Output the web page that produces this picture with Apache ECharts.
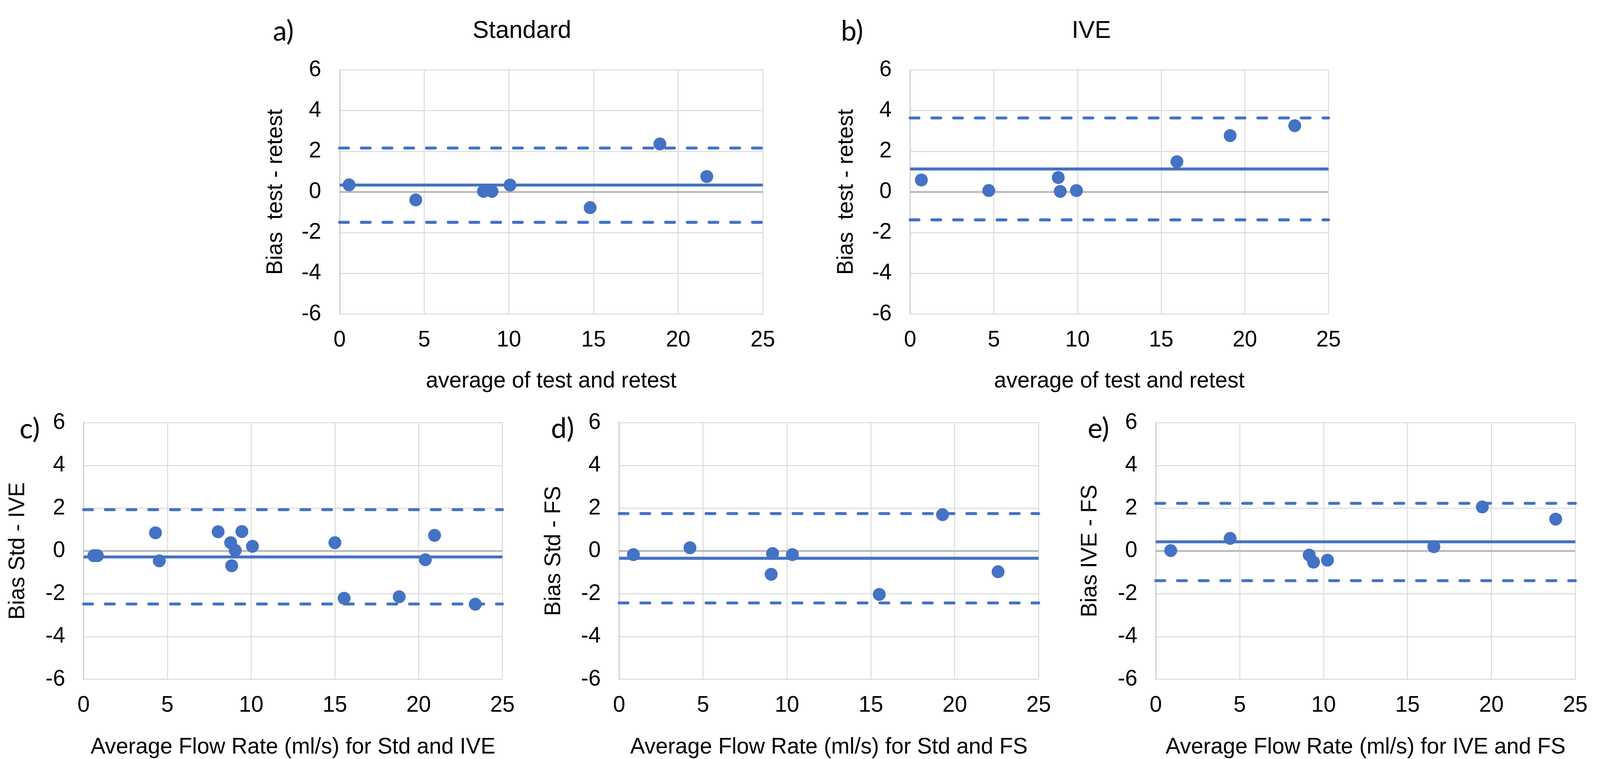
<!DOCTYPE html>
<html>
<head>
<meta charset="utf-8">
<script src="https://cdn.jsdelivr.net/npm/echarts@6/dist/echarts.min.js"></script>
<style>
html,body{margin:0;padding:0;background:#fff;overflow:hidden;width:100%;height:100%;}
#chart{width:100vw;height:100vh;}
</style>
</head>
<body>
<div id="chart"></div>
<script>
// ---- axis ticks ----
const X_MIN = 0, X_MAX = 25, X_STEP = 5;
const Y_MIN = -6, Y_MAX = 6, Y_STEP = 2;

// ---- panel a) Standard: test - retest ----
const aX = [0.56, 4.50, 8.50, 9.00, 10.07, 14.80, 18.92, 21.69];
const aY = [0.35, -0.39, 0.03, 0.03, 0.34, -0.77, 2.36, 0.76];
const aStats = [0.34, 2.16, -1.49]; // mean, upper LoA, lower LoA

// ---- panel b) IVE: test - retest ----
const bX = [0.67, 4.70, 8.85, 8.97, 9.94, 15.94, 19.12, 22.98];
const bY = [0.59, 0.07, 0.71, 0.03, 0.07, 1.49, 2.77, 3.26];
const bStats = [1.13, 3.64, -1.37];

// ---- panel c) Std - IVE ----
const cX = [0.61, 0.82, 4.29, 4.52, 8.03, 8.78, 9.05, 8.84, 9.45, 10.08, 15.00, 15.55, 18.84, 20.40, 20.95, 23.38];
const cY = [-0.22, -0.22, 0.85, -0.46, 0.90, 0.39, 0.03, -0.69, 0.91, 0.22, 0.39, -2.21, -2.14, -0.41, 0.73, -2.49];
const cStats = [-0.28, 1.93, -2.48];

// ---- panel d) Std - FS ----
const dX = [0.85, 4.22, 9.14, 9.06, 10.32, 15.50, 19.27, 22.58];
const dY = [-0.17, 0.15, -0.12, -1.09, -0.17, -2.03, 1.70, -0.97];
const dStats = [-0.34, 1.75, -2.43];

// ---- panel e) IVE - FS ----
const eX = [0.89, 4.43, 9.14, 9.40, 10.23, 16.57, 19.46, 23.83];
const eY = [0.02, 0.59, -0.19, -0.52, -0.43, 0.20, 2.06, 1.49];
const eStats = [0.43, 2.23, -1.39];

const panels = [
  {x: aX, y: aY, s: aStats, xName: 'average of test and retest', yName: 'Bias  test - retest', label: 'a)', title: 'Standard'},
  {x: bX, y: bY, s: bStats, xName: 'average of test and retest', yName: 'Bias  test - retest', label: 'b)', title: 'IVE'},
  {x: cX, y: cY, s: cStats, xName: 'Average Flow Rate (ml/s) for Std and IVE', yName: 'Bias Std - IVE', label: 'c)'},
  {x: dX, y: dY, s: dStats, xName: 'Average Flow Rate (ml/s) for Std and FS', yName: 'Bias Std - FS', label: 'd)'},
  {x: eX, y: eY, s: eStats, xName: 'Average Flow Rate (ml/s) for IVE and FS', yName: 'Bias IVE - FS', label: 'e)'}
];

// layout in reference pixels (4344 x 1943), scaled to the actual viewport
const REF_W = 4344, REF_H = 1943;
const el = document.getElementById('chart');
const W = el.clientWidth || window.innerWidth;
const H = el.clientHeight || window.innerHeight;
const sx = W / REF_W, sy = H / REF_H, k = Math.min(sx, sy);

const grids = [
  {left: 922, top: 179, width: 1149, height: 625, yGap: 143, xGap: 144, lx: 741, ly: 81, tx: 1417, ty: 80},
  {left: 2471, top: 179, width: 1136, height: 625, yGap: 142, xGap: 144, lx: 2283, ly: 81, tx: 2963, ty: 80},
  {left: 227, top: 1082, width: 1137, height: 668, yGap: 148, xGap: 146, lx: 53, ly: 1099},
  {left: 1681, top: 1082, width: 1139, height: 668, yGap: 146, xGap: 146, lx: 1496, ly: 1098},
  {left: 3138, top: 1082, width: 1139, height: 668, yGap: 147, xGap: 146, lx: 2953, ly: 1098}
];

const BLUE = '#4472C4';
const FONT = '"Liberation Sans", Arial, sans-serif';

const option = {
  backgroundColor: '#fff',
  animation: false,
  grid: [], xAxis: [], yAxis: [], series: [], graphic: []
};

panels.forEach((p, i) => {
  const g = grids[i];
  option.grid.push({left: g.left * sx, top: g.top * sy, width: g.width * sx, height: g.height * sy, containLabel: false});
  option.xAxis.push({
    type: 'value', gridIndex: i, min: X_MIN, max: X_MAX, interval: X_STEP,
    name: p.xName, nameLocation: 'middle', nameGap: g.xGap * sy,
    nameTextStyle: {fontSize: 60 * k, fontFamily: FONT, color: '#000'},
    axisLine: {show: false}, axisTick: {show: false},
    axisLabel: {fontSize: 60 * k, fontFamily: FONT, color: '#000', margin: 39 * sy},
    splitLine: {show: true, lineStyle: {color: '#d9d9d9', width: 2.5 * k}}
  });
  option.yAxis.push({
    type: 'value', gridIndex: i, min: Y_MIN, max: Y_MAX, interval: Y_STEP,
    name: p.yName, nameLocation: 'middle', nameGap: g.yGap * sx, nameRotate: 90,
    nameTextStyle: {fontSize: 60 * k, fontFamily: FONT, color: '#000'},
    axisLine: {show: true, onZero: false, lineStyle: {color: '#c6c6c6', width: 2.5 * k}},
    axisTick: {show: false},
    axisLabel: {fontSize: 60 * k, fontFamily: FONT, color: '#000', margin: 50 * sx},
    splitLine: {show: true, lineStyle: {color: '#d9d9d9', width: 2.5 * k}}
  });
  // zero axis line
  option.series.push({
    type: 'line', xAxisIndex: i, yAxisIndex: i, data: [[X_MIN, 0], [X_MAX, 0]],
    symbol: 'none', silent: true, z: 1,
    lineStyle: {color: '#bcbcbc', width: 5.5 * k}
  });
  // mean line
  option.series.push({
    type: 'line', xAxisIndex: i, yAxisIndex: i, data: [[X_MIN, p.s[0]], [X_MAX, p.s[0]]],
    symbol: 'none', silent: true, z: 2,
    lineStyle: {color: BLUE, width: 8 * k}
  });
  // limits of agreement
  [p.s[1], p.s[2]].forEach(v => {
    option.series.push({
      type: 'line', xAxisIndex: i, yAxisIndex: i, data: [[X_MIN, v], [X_MAX, v]],
      symbol: 'none', silent: true, z: 2,
      lineStyle: {color: BLUE, width: 8 * k, type: [24 * k, 35 * k], cap: 'round'}
    });
  });
  // points
  option.series.push({
    type: 'scatter', xAxisIndex: i, yAxisIndex: i,
    data: p.x.map((xv, j) => [xv, p.y[j]]),
    symbol: 'circle', symbolSize: 35 * k, z: 3,
    itemStyle: {color: BLUE, opacity: 1}
  });
  // panel label
  option.graphic.push({
    type: 'text', x: g.lx * sx, y: g.ly * sy,
    style: {text: p.label, fontSize: 76 * k, fontFamily: 'Lato, "Open Sans", sans-serif', fill: '#000', align: 'left', verticalAlign: 'middle'}
  });
  if (p.title) {
    option.graphic.push({
      type: 'text', x: g.tx * sx, y: g.ty * sy,
      style: {text: p.title, fontSize: 66 * k, fontFamily: FONT, fill: '#000', align: 'center', verticalAlign: 'middle'}
    });
  }
});

const chart = echarts.init(el, null, {renderer: 'canvas'});
chart.setOption(option);
</script>
</body>
</html>
